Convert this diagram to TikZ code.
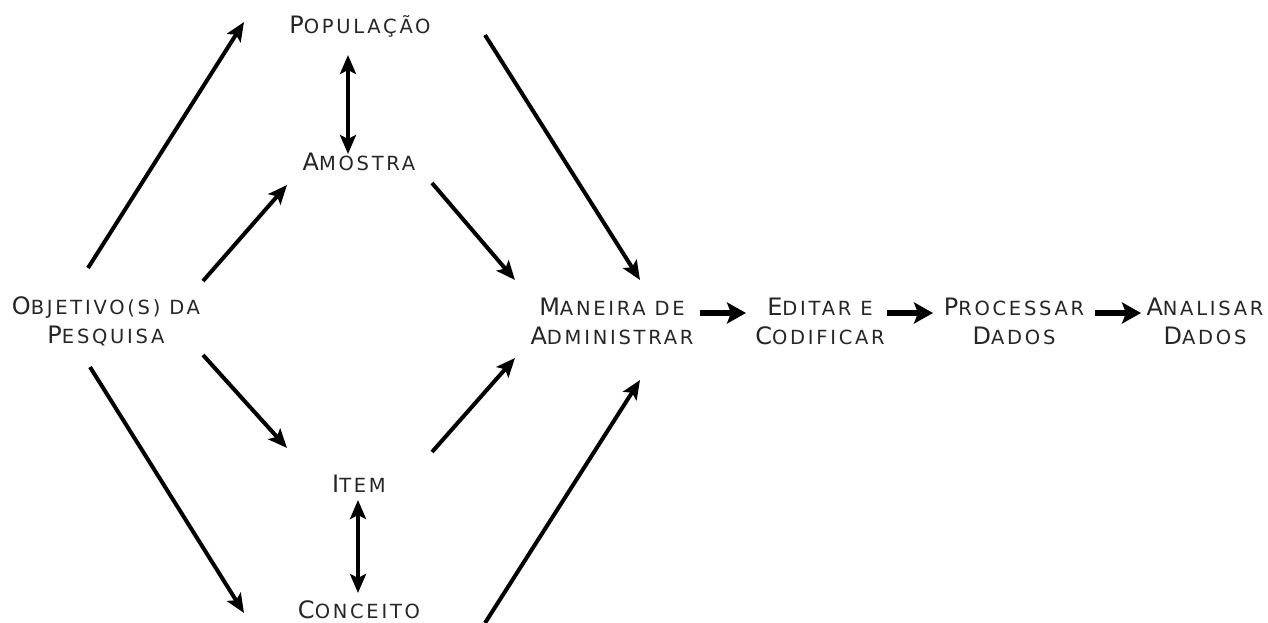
\documentclass[tikz,border=0pt]{standalone}
\usepackage{fontspec}
\setmainfont{DejaVu Sans}[LetterSpace=14]
\usetikzlibrary{arrows.meta}
\newcommand\bigL[1]{{\fontsize{24}{29}\selectfont #1}}
\newcommand\smL[1]{{\fontsize{19.5}{29}\selectfont #1}}
\newcommand\scx[2]{\bigL{#1}\smL{#2}}
\tikzset{
  lbl/.style={inner sep=0pt, align=center, text=black!85, font=\fontsize{19.5}{29}\selectfont},
  conn/.style={line width=4pt, -{Stealth[length=19pt,width=16pt,inset=4pt]}},
  dconn/.style={line width=4.5pt, {Stealth[length=19pt,width=16pt,inset=4pt]}-{Stealth[length=19pt,width=16pt,inset=4pt]}},
  hconn/.style={line width=6pt, -{Stealth[length=19pt,width=21pt,inset=4pt]}}
}
\begin{document}
\begin{tikzpicture}[x=1pt,y=-1pt]
\useasboundingbox[fill=white] (0,0) rectangle (1268,623);
% labels
\node[lbl, anchor=base] (pop) at (360,34) {\scx{P}{OPULAÇÃO}};
\node[lbl, anchor=base] (amo) at (359,170) {\scx{A}{MOSTRA}};
\node[lbl, anchor=base] (item) at (359,492) {\scx{I}{TEM}};
\node[lbl, anchor=base] (conc) at (359,618) {\scx{C}{ONCEITO}};
\node[lbl] (obj) at (106,321) {\scx{O}{BJETIVO(S) DA}\\\scx{P}{ESQUISA}};
\node[lbl] (man) at (612,321) {\scx{M}{ANEIRA DE}\\\scx{A}{DMINISTRAR}};
\node[lbl] (edi) at (820,321) {\scx{E}{DITAR E}\\\scx{C}{ODIFICAR}};
\node[lbl] (pro) at (1014,321) {\scx{P}{ROCESSAR}\\\scx{D}{ADOS}};
\node[lbl] (ana) at (1205,321) {\scx{A}{NALISAR}\\\scx{D}{ADOS}};
% connector end points
\coordinate (o1) at (88,268);  \coordinate (p1) at (244,22);
\coordinate (o2) at (203,281); \coordinate (a1) at (287,185);
\coordinate (o3) at (203,355); \coordinate (i1) at (287,448);
\coordinate (o4) at (90,367);  \coordinate (c1) at (244,613);
\coordinate (p2) at (348,55);  \coordinate (a2) at (348,154);
\coordinate (i2) at (358,500); \coordinate (c2) at (358,593);
\coordinate (p3) at (485,35);  \coordinate (m1) at (640,280);
\coordinate (a3) at (432,183); \coordinate (m2) at (515,280);
\coordinate (i3) at (432,452); \coordinate (m3) at (515,358);
\coordinate (c3) at (485,623); \coordinate (m4) at (640,380);
\coordinate (m5) at (700,313); \coordinate (e1) at (746,313);
\coordinate (e2) at (887,313); \coordinate (r1) at (933,313);
\coordinate (r2) at (1095,313); \coordinate (n1) at (1141,313);
% connectors
\draw[conn] (o1) -- (p1);
\draw[conn] (o2) -- (a1);
\draw[conn] (o3) -- (i1);
\draw[conn] (o4) -- (c1);
\draw[dconn] (p2) -- (a2);
\draw[dconn] (i2) -- (c2);
\draw[conn] (p3) -- (m1);
\draw[conn] (a3) -- (m2);
\draw[conn] (i3) -- (m3);
\draw[conn] (c3) -- (m4);
\draw[hconn] (m5) -- (e1);
\draw[hconn] (e2) -- (r1);
\draw[hconn] (r2) -- (n1);
\end{tikzpicture}
\end{document}
